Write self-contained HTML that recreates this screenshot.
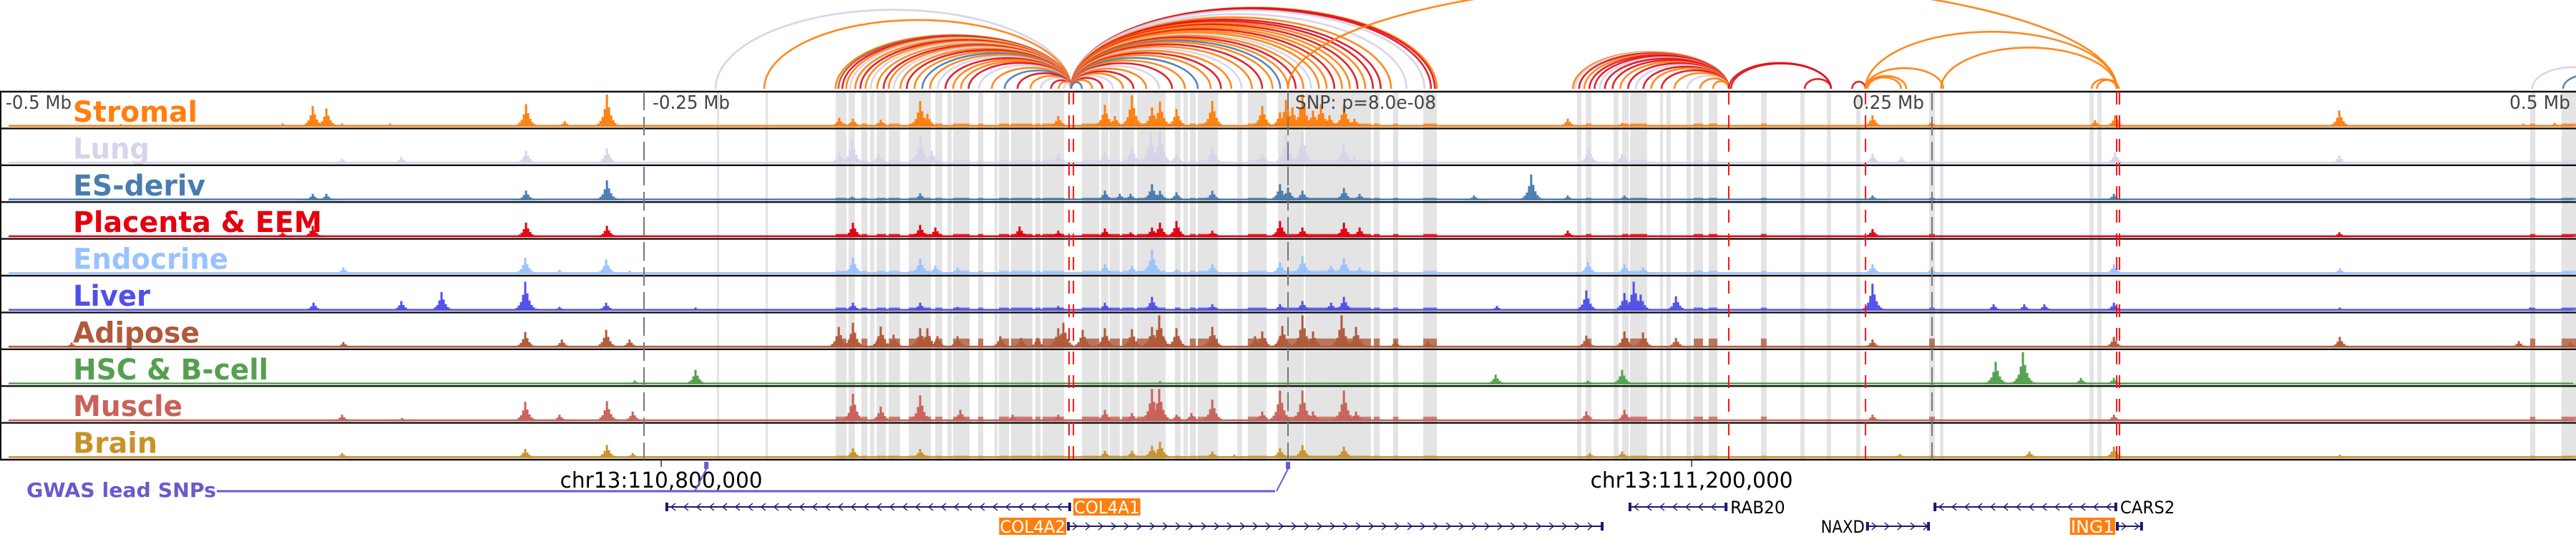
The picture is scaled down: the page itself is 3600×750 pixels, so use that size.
<!DOCTYPE html>
<html><head><meta charset="utf-8"><title>Genome browser chr13</title>
<style>
html,body{margin:0;padding:0;background:#fff;}
svg{display:block;}
text{font-family:"DejaVu Sans","Liberation Sans",sans-serif;}
</style></head>
<body>
<svg id="chart" width="3600" height="750" viewBox="0 0 3600 750" xmlns="http://www.w3.org/2000/svg"></svg>
<script>
// ---------- data (positions in kb from window start; window = 1000 kb, SNP at 500 kb) ----------
const trackNames = ["Stromal","Lung","ES-deriv","Placenta & EEM","Endocrine","Liver","Adipose","HSC & B-cell","Muscle","Brain"];
const trackColors = ["#ff7f0e","#d9d3ea","#4a7cb0","#e3000f","#99c2ff","#5050e8","#b05a3a","#55a050","#c8625a","#c8922a"];
const bandLevels = [0.1,0.12,0.08,0.1,0.1,0.1,0.28,0.02,0.14,0.07];
const peaksStromal = [[46.9,.08],[109.7,.1],[121.4,.64],[126.7,.57],[132.8,.1],[151.4,.1],[204.2,.7],[219.2,.17],[235.6,1],[325.8,.28],[331.1,.25],[341.9,.22],[357.2,.8],[360,.4],[410.8,.33],[428.9,.68],[432.8,.33],[439.4,.97],[447.2,.6],[450.3,.78],[456.7,.55],[470.6,.8],[490,.64],[496.9,.45],[499.2,.83],[501.7,.6],[505.6,1],[509.7,.5],[512.8,.7],[516.1,.35],[521.7,.68],[525.8,.25],[608.6,.25],[629.7,.12],[726.9,.35],[749.4,.12],[813.3,.2],[821.1,.35],[908.1,.5],[979.4,.1],[991.7,.12]];
const peaksLung = [[132.8,.15],[155.8,.2],[204.2,.4],[235.6,.47],[325.8,.35],[330.8,.75],[341.1,.3],[357.2,.9],[361.7,.4],[410.8,.3],[428.9,.35],[439.4,.5],[446.7,.95],[450.3,1],[456.7,.3],[470.6,.5],[490,.3],[499.2,.9],[505.6,.95],[521.7,.6],[525.8,.2],[616.7,.5],[629.7,.3],[726.9,.3],[738.1,.2],[821.1,.35],[908.1,.25]];
const peaksES = [[121.4,.2],[126.7,.2],[204.2,.3],[235.6,.62],[330.8,.12],[357.2,.22],[428.9,.3],[434.7,.2],[438.9,.2],[447.2,.5],[450.3,.3],[456.7,.25],[470.6,.3],[496.9,.5],[500,.4],[505.6,.3],[521.7,.38],[527.8,.2],[572.2,.15],[594.4,.8],[608.6,.15],[630.6,.15],[726.9,.15],[820.6,.2]];
const peaksPlacenta = [[109.7,.15],[121.4,.35],[204.2,.45],[235.6,.35],[331.1,.45],[357.2,.38],[363.1,.3],[395.8,.33],[410.8,.2],[428.9,.27],[438.9,.15],[447.2,.3],[450.3,.45],[456.7,.5],[470.6,.2],[496.9,.5],[505.6,.3],[521.7,.45],[527.8,.3],[608.6,.2],[726.9,.25],[908.1,.15]];
const peaksEndocrine = [[133.3,.2],[203.9,.5],[217.2,.12],[235.3,.45],[244.4,.1],[331.1,.5],[357.2,.47],[363.1,.25],[371.7,.2],[428.9,.3],[439.4,.25],[447.2,.75],[456.7,.15],[470.6,.3],[496.9,.35],[505.6,.55],[516.7,.25],[521.7,.5],[527.8,.2],[616.4,.37],[630.6,.3],[637.8,.2],[726.9,.3],[749.7,.15],[820.6,.3],[908.3,.17]];
const peaksLiver = [[121.7,.25],[155.8,.3],[171.4,.58],[203.9,.9],[217.2,.12],[235.3,.25],[270,.1],[331.1,.25],[357.2,.25],[371.7,.12],[410.8,.15],[428.9,.25],[447.2,.43],[456.7,.1],[470.6,.2],[496.9,.2],[505.6,.3],[516.7,.25],[521.7,.43],[581.1,.15],[615.8,.63],[630.6,.55],[634.2,.9],[636.9,.5],[650.6,.45],[726.9,.84],[773.9,.2],[785.8,.2],[793.6,.2],[820.6,.25],[908.3,.1],[982.2,.1]];
const peaksAdipose = [[27.8,.15],[133.3,.17],[203.9,.48],[218.1,.25],[235.3,.55],[244.4,.25],[325.6,.64],[331.1,.77],[341.9,.65],[346.9,.4],[357.2,.6],[360,.6],[363.9,.35],[371.7,.35],[388.3,.35],[396.4,.3],[402.8,.3],[410.8,.6],[412.8,.77],[420.3,.55],[428.9,.6],[439.4,.57],[447.2,.64],[450,1],[456.7,.6],[470.6,.64],[487.2,.35],[490,.5],[497.8,.67],[505.6,1],[509.7,.5],[520.8,1],[526.4,.64],[541.7,.2],[554.2,.2],[615.8,.37],[630.6,.5],[637.8,.47],[650.6,.3],[726.9,.25],[820.6,.33],[908.3,.33],[977.8,.2],[997.8,.15]];
const peaksHSC = [[246.4,.12],[270,.45],[450.3,.1],[521.7,.06],[580.6,.3],[616.4,.12],[629.7,.45],[774.7,.7],[785.3,1],[807.8,.2],[820.6,.2]];
const peaksMuscle = [[132.8,.2],[156.1,.1],[203.9,.6],[217.2,.2],[235.6,.62],[245.6,.3],[331.1,.85],[341.9,.45],[357.2,.8],[372.8,.35],[393.1,.2],[410.8,.2],[428.9,.35],[439.4,.25],[447.2,1],[450,1],[456.7,.2],[462.5,.25],[470.6,.67],[490,.3],[496.9,.95],[505.6,.95],[509.7,.3],[521.7,.95],[526.4,.3],[615.8,.3],[630.6,.35],[726.9,.2],[820.6,.2]];
const peaksBrain = [[132.8,.15],[203.9,.28],[235.6,.4],[245.6,.15],[331.1,.3],[357.2,.28],[428.9,.22],[439.4,.22],[447.2,.38],[450.3,.5],[470.6,.2],[479.2,.1],[496.9,.3],[505.6,.4],[521.7,.35],[617.2,.15],[629.7,.2],[737.5,.12],[787.8,.2],[820.6,.35],[908.3,.1]];
const trackPeaks = [peaksStromal,peaksLung,peaksES,peaksPlacenta,peaksEndocrine,peaksLiver,peaksAdipose,peaksHSC,peaksMuscle,peaksBrain];

const highlightBands = [[278.3,279.2],[297.2,298.1],[324.4,328.6],[329.4,331.9],[334.4,336.7],[337.8,339.4],[340.3,343.9],[345,349.4],[352.8,361.4],[363.1,365.8],[367.8,369.4],[370,376.4],[379.7,381.7],[386.1,387.2],[387.8,391.7],[392.5,400.8],[401.9,403.9],[404.7,413.1],[420,426.7],[427.5,430.3],[430.8,434.7],[435.6,440.3],[441.4,452.5],[456.1,458.3],[459.4,461.1],[461.9,464.2],[465,472.8],[480.3,482.2],[484.4,491.7],[496.1,506.1],[506.7,532.2],[533.3,535.6],[540.8,542.8],[552.5,557.8],[612.2,613.9],[615.6,617.8],[626.4,628.3],[629.7,632.2],[632.8,639.4],[644.4,645.6],[646.9,648.6],[654.7,656.4],[657.5,661.1],[663.3,666.7],[683.6,685.8],[698.9,700.6],[709.2,710.8],[720.6,722.2],[748.9,751.1],[753.1,754.4],[811.1,812.8],[814.2,815.8],[982.2,984.2],[994.4,1000]];
const redMarkers = [415.0,416.7,671.1,724.2,821.7,822.8];
const scaleTicks = [250,750];
const snpKb = 500;

const arcPalette = {O:"#ff7f0e",R:"#e0101a",L:"#d6d0e8",B:"#4a7cb0",N:"#b05a3a"};
const arcList = [
[277.8,415.8,"L"],[296.7,415.8,"O"],[324.4,415.8,"O"],[325.5,415.8,"N"],[327,415.8,"R"],[328.5,415.8,"O"],[330,415.8,"L"],[332,415.8,"O"],[334,415.8,"R"],[336,415.8,"O"],[338,415.8,"L"],[340.5,415.8,"O"],[343,415.8,"R"],[345,415.8,"O"],[347,415.8,"L"],[349.5,415.8,"O"],[352,415.8,"R"],[355,415.8,"O"],[358,415.8,"B"],[361,415.8,"O"],[364,415.8,"L"],[367,415.8,"R"],[370,415.8,"O"],[373,415.8,"O"],[376,415.8,"R"],[380,415.8,"L"],[385,415.8,"O"],[390,415.8,"B"],[395,415.8,"R"],[400,415.8,"O"],[404,415.8,"L"],[408,415.8,"R"],[411,415.8,"O"],[413,415.8,"L"],
[415.8,557.8,"O"],[415.8,557,"R"],[415.8,555.5,"R"],[415.8,553,"L"],[415.8,546,"L"],[415.8,540,"O"],[415.8,536,"R"],[415.8,533,"R"],[415.8,530,"O"],[415.8,527,"R"],[415.8,524,"O"],[415.8,521,"O"],[415.8,518,"R"],[415.8,515,"O"],[415.8,512,"O"],[415.8,509,"L"],[415.8,506,"O"],[415.8,503,"R"],[415.8,500,"O"],[415.8,497,"B"],[415.8,494,"O"],[415.8,490,"R"],[415.8,486,"O"],[415.8,482,"L"],[415.8,478,"O"],[415.8,474,"R"],[415.8,470,"O"],[415.8,465,"B"],[415.8,460,"O"],[415.8,455,"R"],[415.8,450,"L"],[415.8,445,"O"],[415.8,440,"R"],[415.8,436,"O"],[415.8,432,"L"],[415.8,428,"R"],[415.8,424,"O"],[415.8,420,"B"],
[500,821.7,"O"],
[610.6,671.1,"O"],[611.5,671.1,"L"],[613,671.1,"R"],[615,671.1,"O"],[617,671.1,"R"],[619,671.1,"R"],[621,671.1,"L"],[623,671.1,"R"],[626,671.1,"R"],[629,671.1,"O"],[632,671.1,"R"],[635,671.1,"L"],[638,671.1,"R"],[641,671.1,"O"],[645,671.1,"R"],[650,671.1,"O"],[655,671.1,"L"],[660,671.1,"O"],[665,671.1,"O"],
[671.1,710.8,"R"],[672,710.8,"R"],[700.6,710.8,"R"],[719,724.2,"R"],[724.2,754.4,"O"],[724.2,740,"O"],[725,738,"O"],[724.2,821.7,"O"],[753.5,821.7,"O"],[812,821.7,"O"],[814,822.5,"O"],[983,1015,"L"],[995,1012,"B"]];

const genes = [
 {name:"COL4A1",start:258.3,end:415.8,strand:-1,row:0,boxed:true,labelSide:"right"},
 {name:"COL4A2",start:414.2,end:622.5,strand:1,row:1,boxed:true,labelSide:"left"},
 {name:"RAB20",start:632.2,end:670.6,strand:-1,row:0,boxed:false,labelSide:"right"},
 {name:"NAXD",start:724.4,end:749.2,strand:1,row:1,boxed:false,labelSide:"left"},
 {name:"CARS2",start:750.6,end:821.9,strand:-1,row:0,boxed:false,labelSide:"right"},
 {name:"ING1",start:821.4,end:831.9,strand:1,row:1,boxed:true,labelSide:"left"}];
const gwasSnps = [274.2,500];
const genomeTicksBp = [110800000,111200000];
const windowStartBp = 110543300;

// ---------- scales ----------
const W=3600, PXKB=3.6;
const xs = kb => kb*PXKB;
const bpX = bp => (bp-windowStartBp)/1000*PXKB;
const TOP=128, TH=51.4;
const trackTop = i => TOP+TH*i;
const yv = (i,v) => trackTop(i)+49 - v*45;

const svg=document.getElementById('chart');
const NS="http://www.w3.org/2000/svg";
function mk(tag,attrs,parent){const e=document.createElementNS(NS,tag);for(const k in attrs)e.setAttribute(k,attrs[k]);(parent||svg).appendChild(e);return e;}

// arcs
const gArcs=mk('g',{});


arcList.forEach(a=>{
  const x1=xs(a[0]),x2=xs(a[1]);const span=Math.abs(x2-x1);
  const ry=Math.min(span*0.21+6, 150);
  const p=mk('path',{d:`M${x1},124 A${span/2},${ry} 0 0 1 ${x2},124`,fill:'none',stroke:arcPalette[a[2]],'stroke-width':2.6,'stroke-opacity':0.92},gArcs);
  
  
});

// highlight bands
const gBands=mk('g',{});


highlightBands.forEach(b=>{
  const r=mk('rect',{x:xs(b[0]),y:TOP,width:Math.max(2,xs(b[1])-xs(b[0])),height:TH*10,fill:'#e4e4e4'},gBands);
  
  
});

// tracks
const shape=[[0,1],[-3,0.55],[3,0.6],[-6,0.3],[6,0.35],[-9,0.18],[9,0.2],[-12,0.1],[12,0.12],[-16,0.06],[16,0.07]];
trackNames.forEach((name,i)=>{
  const g=mk('g',{});
  
  
  const col=trackColors[i];
  const base=trackTop(i)+49;
  mk('rect',{x:12,y:base-2.5,width:W-16,height:2.5,fill:col},g);
  highlightBands.forEach(b=>{
    if(b[1]-b[0]<2) return;
    const y=yv(i,bandLevels[i]);
    mk('rect',{x:xs(b[0]),y:y,width:xs(b[1])-xs(b[0]),height:base-y,fill:col,'fill-opacity':0.8},g);
  });
  trackPeaks[i].forEach(p=>{
    const x=xs(p[0]);const v=p[1];
    shape.forEach(q=>{
      const y=yv(i,Math.max(v*q[1],0.04));
      const r=mk('rect',{x:x+q[0]-1.5,y:y,width:3,height:base-y,fill:col},g);
      
      
    });
  });
});

// labels for tracks
trackNames.forEach((name,i)=>{
  const widths=[174,107,185,348,217,108,177,273,153,118];
  const t=mk('text',{x:102,y:trackTop(i)+42,'font-size':40,'font-weight':'bold',fill:trackColors[i],textLength:widths[i],lengthAdjust:'spacingAndGlyphs'});
  t.textContent=name;
  
  
});

// borders
for(let i=0;i<=10;i++){
  const l=mk('line',{x1:0,x2:W,y1:trackTop(i),y2:trackTop(i),stroke:'#111','stroke-width':2.4});
  
  
}
mk('line',{x1:1,x2:1,y1:TOP,y2:trackTop(10),stroke:'#111','stroke-width':2});

// scale dashed lines
scaleTicks.concat([snpKb]).forEach(k=>{
  const l=mk('line',{x1:xs(k),x2:xs(k),y1:TOP,y2:trackTop(10),stroke:'#777','stroke-width':2,'stroke-dasharray':'26 9'});
  
  
});
// red markers
redMarkers.forEach(k=>{
  const l=mk('line',{x1:xs(k),x2:xs(k),y1:TOP,y2:trackTop(10),stroke:'#ff1010','stroke-width':2,'stroke-dasharray':'18 15'});
  
  
});

// scale text
const scaleLabels=[["-0.5 Mb",8,92],["-0.25 Mb",912,108],["SNP: p=8.0e-08",1810,197],["0.25 Mb",2589,100],["0.5 Mb",3507,85]];
scaleLabels.forEach(s=>{
  const t=mk('text',{x:s[1],y:152,'font-size':26,fill:'#444',textLength:s[2],lengthAdjust:'spacingAndGlyphs'});
  t.textContent=s[0];
  
  
});

// genome axis
genomeTicksBp.forEach(bp=>{
  const x=bpX(bp);
  mk('line',{x1:x,x2:x,y1:643,y2:652,stroke:'#333','stroke-width':1.5});
  const t=mk('text',{x:x,y:681,'font-size':30,fill:'#000','text-anchor':'middle',textLength:283,lengthAdjust:'spacingAndGlyphs'});
  t.textContent='chr13:'+bp.toLocaleString('en-US');
  
  
});

// GWAS
const gw=mk('g',{});


const gl=mk('text',{x:37,y:694,'font-size':28,'font-weight':'bold',fill:'#6a5acd',textLength:265,lengthAdjust:'spacingAndGlyphs'},gw);
gl.textContent='GWAS lead SNPs';


const snpXs=gwasSnps.map(xs);
mk('line',{x1:303,x2:snpXs[snpXs.length-1]-18,y1:686,y2:686,stroke:'#6a5acd','stroke-width':3},gw);
snpXs.forEach(x=>{
  mk('line',{x1:x-16,y1:686,x2:x,y2:655,stroke:'#6a5acd','stroke-width':2},gw);
  const r=mk('rect',{x:x-3,y:645,width:6,height:10,fill:'#6a5acd'},gw);
  
  
});

// genes
genes.forEach(g=>{
  const grp=mk('g',{});
  
  
  const y=g.row===0?708:735;
  const x1=xs(g.start),x2=xs(g.end);
  mk('line',{x1:x1,x2:x2,y1:y,y2:y,stroke:'#1a1a6e','stroke-width':2},grp);
  for(let x=x1+10;x<x2-6;x+=18){
    const d=g.strand<0?`M${x+4},${y-5} L${x-2},${y} L${x+4},${y+5}`:`M${x-2},${y-5} L${x+4},${y} L${x-2},${y+5}`;
    mk('path',{d:d,fill:'none',stroke:'#1a1a6e','stroke-width':1.4},grp);
  }
  mk('rect',{x:x1,y:y-6,width:4,height:12,fill:'#1a1a6e'},grp);
  mk('rect',{x:x2-4,y:y-6,width:4,height:12,fill:'#1a1a6e'},grp);
  const tw=g.name.length*15.3;
  let tx=g.labelSide==='right'?x2+3:x1-3-tw;
  if(g.boxed){
    mk('rect',{x:tx,y:y-12,width:tw+2,height:24,fill:'#ff7f0e'},grp);
  }
  const t=mk('text',{x:tx+1,y:y+9,'font-size':24,fill:g.boxed?'#fff':'#000',textLength:tw,lengthAdjust:'spacingAndGlyphs'},grp);
  t.textContent=g.name;
  
  
});
</script>
</body></html>
